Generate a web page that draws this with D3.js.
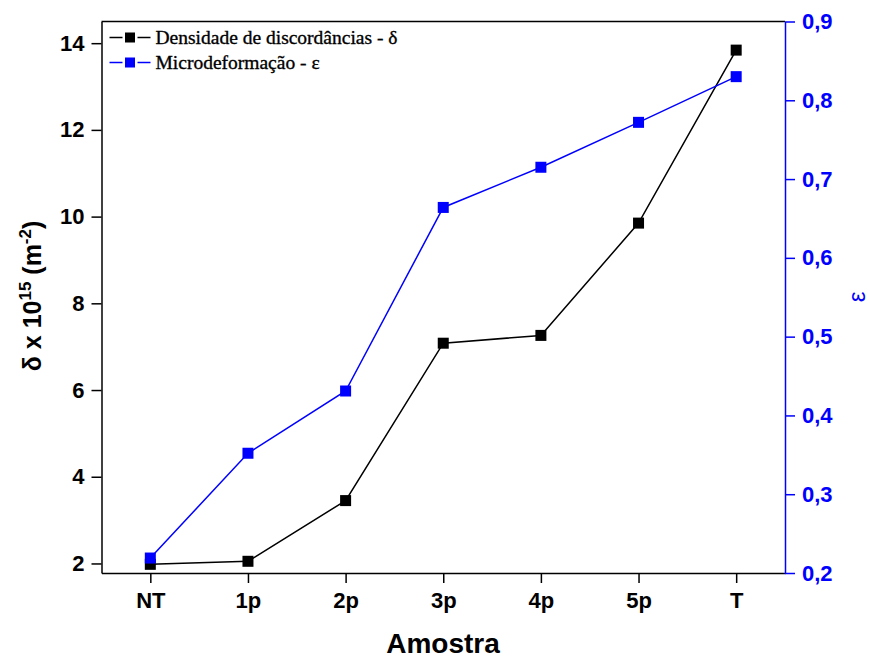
<!DOCTYPE html>
<html>
<head>
<meta charset="utf-8">
<script src="https://cdn.jsdelivr.net/npm/d3@7"></script>
<style>
  body { margin: 0; background: #fff; }
  text { font-family: "Liberation Sans", Arial, sans-serif; }
</style>
</head>
<body>
<div id="chart"></div>
<script>
// data
const samples = ["NT", "1p", "2p", "3p", "4p", "5p", "T"];
const density = [1.98, 2.05, 3.45, 7.08, 7.26, 9.85, 13.84];
const strain = [0.219, 0.352, 0.431, 0.664, 0.715, 0.772, 0.830];
const leftTicks = [2, 4, 6, 8, 10, 12, 14];
const rightTicks = [0.2, 0.3, 0.4, 0.5, 0.6, 0.7, 0.8, 0.9];

// layout
const w = 870, h = 659;
const plotLeft = 101.5, plotRight = 785, plotTop = 21.5, plotBottom = 573;
const blue = "#0000ff";

const svg = d3.select("#chart").append("svg")
  .attr("width", w)
  .attr("height", h);

// scales
const x = d3.scalePoint().domain(samples).range([plotLeft, plotRight]).padding(0.5);
const yL = d3.scaleLinear().domain([1.78, 14.5]).range([plotBottom, plotTop]);
const yR = d3.scaleLinear().domain([0.2, 0.9]).range([plotBottom, plotTop]);

// axes
const xAxis = svg.append("g")
  .attr("transform", `translate(0,${plotBottom})`)
  .call(d3.axisBottom(x).tickSize(10).tickPadding(9).tickSizeOuter(0));
const lAxis = svg.append("g")
  .attr("transform", `translate(${plotLeft},0)`)
  .call(d3.axisLeft(yL).tickValues(leftTicks).tickSize(10).tickPadding(7).tickSizeOuter(0));
const rAxis = svg.append("g")
  .attr("transform", `translate(${plotRight},0)`)
  .call(d3.axisRight(yR).tickValues(rightTicks).tickSize(10).tickPadding(7).tickSizeOuter(0)
    .tickFormat(d => d3.format(".1f")(d).replace(".", ",")));

[xAxis, lAxis, rAxis].forEach(g => {
  g.selectAll("text")
    .style("font-family", "'Liberation Sans', Arial, sans-serif")
    .style("font-size", "22px")
    .style("font-weight", "bold");
  g.selectAll("path, line").attr("stroke-width", 1.5);
});
xAxis.selectAll("text").attr("fill", "#000");
lAxis.selectAll("text").attr("fill", "#000");
rAxis.selectAll("path, line").attr("stroke", blue);
rAxis.selectAll("text").attr("fill", blue);

// top frame
svg.append("line")
  .attr("x1", plotLeft).attr("x2", plotRight)
  .attr("y1", plotTop).attr("y2", plotTop)
  .attr("stroke", "#000").attr("stroke-width", 1.5);

// lines
const lineL = d3.line().x((d, i) => x(samples[i])).y(d => yL(d));
const lineR = d3.line().x((d, i) => x(samples[i])).y(d => yR(d));

svg.append("path").datum(density)
  .attr("d", lineL).attr("fill", "none")
  .attr("stroke", "#000").attr("stroke-width", 1.5);
svg.append("path").datum(strain)
  .attr("d", lineR).attr("fill", "none")
  .attr("stroke", blue).attr("stroke-width", 1.5);

const ms = 11;
svg.append("g").selectAll("rect").data(density).enter().append("rect")
  .attr("x", (d, i) => x(samples[i]) - ms / 2)
  .attr("y", d => yL(d) - ms / 2)
  .attr("width", ms).attr("height", ms)
  .attr("fill", "#000");
svg.append("g").selectAll("rect").data(strain).enter().append("rect")
  .attr("x", (d, i) => x(samples[i]) - ms / 2)
  .attr("y", d => yR(d) - ms / 2)
  .attr("width", ms).attr("height", ms)
  .attr("fill", blue);

// legend
const legend = [
  { label: "Densidade de discordâncias - δ", color: "#000" },
  { label: "Microdeformação - ε", color: blue }
];
const lg = svg.append("g").attr("transform", `translate(${plotLeft + 8},${plotTop + 16})`);
legend.forEach((d, i) => {
  const g = lg.append("g").attr("transform", `translate(0,${i * 25})`);
  g.append("line").attr("x1", 0).attr("x2", 13).attr("y1", 0).attr("y2", 0)
    .attr("stroke", d.color).attr("stroke-width", 1.5);
  g.append("line").attr("x1", 28).attr("x2", 41).attr("y1", 0).attr("y2", 0)
    .attr("stroke", d.color).attr("stroke-width", 1.5);
  g.append("rect").attr("x", 15.5).attr("y", -5).attr("width", 10).attr("height", 10)
    .attr("fill", d.color);
  g.append("text").attr("x", 46).attr("y", 6.5)
    .style("font-family", "'Liberation Serif', 'Times New Roman', serif")
    .style("font-size", "19.5px")
    .attr("fill", "#000")
    .attr("stroke", "#000").attr("stroke-width", 0.35)
    .text(d.label);
});

// axis titles
svg.append("text")
  .attr("transform", `translate(443,653)`)
  .attr("text-anchor", "middle")
  .style("font-size", "28px").style("font-weight", "bold")
  .text("Amostra");

const yt = svg.append("text")
  .attr("transform", `translate(41,296) rotate(-90)`)
  .attr("text-anchor", "middle")
  .style("font-size", "25px").style("font-weight", "bold");
yt.append("tspan").text("δ x 10");
yt.append("tspan").attr("dy", -10).style("font-size", "17px").text("15");
yt.append("tspan").attr("dy", 10).text(" (m");
yt.append("tspan").attr("dy", -10).style("font-size", "17px").text("-2");
yt.append("tspan").attr("dy", 10).text(")");

svg.append("text")
  .attr("transform", `translate(865,297) rotate(-90)`)
  .attr("text-anchor", "middle")
  .attr("fill", blue)
  .style("font-size", "24px")
  .text("ε");
</script>
</body>
</html>
